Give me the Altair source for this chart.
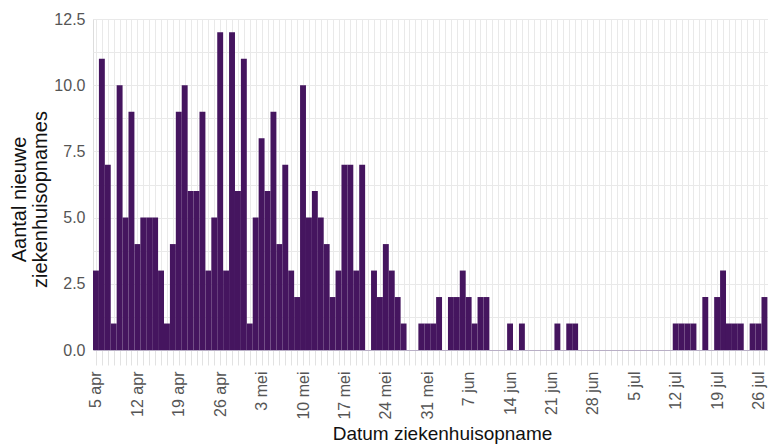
import json
import altair as alt
import pandas as pd

# Daily new hospital admissions, one value per day starting 5 apr
counts = [
    3, 11, 7, 1, 10, 5, 9, 4, 5, 5, 5, 3, 1, 4,      # 5 apr - 18 apr
    9, 10, 6, 6, 9, 3, 5, 12, 3, 12, 6, 11, 1, 5,    # 19 apr - 2 mei
    8, 6, 9, 4, 7, 3, 2, 10, 5, 6, 5, 4, 2, 3,       # 3 mei - 16 mei
    7, 7, 3, 7, 0, 3, 2, 4, 3, 2, 1, 0, 0, 1,        # 17 mei - 30 mei
    1, 1, 2, 0, 2, 2, 3, 2, 1, 2, 2, 0, 0, 0,        # 31 mei - 13 jun
    1, 0, 1, 0, 0, 0, 0, 0, 1, 0, 1, 1, 0, 0,        # 14 jun - 27 jun
    0, 0, 0, 0, 0, 0, 0, 0, 0, 0, 0, 0, 0, 0,        # 28 jun - 11 jul
    1, 1, 1, 1, 0, 2, 0, 2, 3, 1, 1, 1, 0, 1,        # 12 jul - 25 jul
    1, 2,                                            # 26 jul - 27 jul
]

tick_labels = ["5 apr", "12 apr", "19 apr", "26 apr", "3 mei", "10 mei", "17 mei",
               "24 mei", "31 mei", "7 jun", "14 jun", "21 jun", "28 jun", "5 jul",
               "12 jul", "19 jul", "26 jul"]

y_title = ["Aantal nieuwe", "ziekenhuisopnames"]
x_title = "Datum ziekenhuisopname"

df = pd.DataFrame({"day": list(range(len(counts))), "count": counts})

label_expr = f"datum.value % 7 == 0 ? {json.dumps(tick_labels)}[datum.value / 7] : ''"
y_label_expr = "datum.value % 2.5 == 0 ? format(datum.value, '.1f') : ''"

bar_color = "#45155f"
grid_color = "#e9e9e9"
font = "Liberation Sans"

chart = alt.Chart(df).transform_filter(
    "datum.count > 0"
).transform_calculate(
    x0="datum.day - 0.5", x1="datum.day + 0.5"
).mark_bar(color=bar_color, clip=True).encode(
    x=alt.X("x0:Q",
            scale=alt.Scale(domain=[-0.5, 113.6], nice=False, zero=False),
            axis=alt.Axis(
                values=list(range(0, 114)),
                labelExpr=label_expr,
                labelAngle=270, labelAlign="right", labelBaseline="middle",
                labelFontSize=16, labelColor="#555555", labelFont=font,
                labelPadding=6, labelOverlap=False, labelFlush=False,
                ticks=True, tickSize=15, tickColor="#e2e2e2", tickWidth=1,
                grid=True, gridColor=grid_color, gridWidth=1,
                domain=True, domainColor="#b9afc6", domainWidth=1,
                title=x_title, titleFont=font, titleFontSize=19,
                titleFontWeight="normal", titleColor="#111111",
                titleX=349, titleY=89, titleAlign="center",
                titleBaseline="alphabetic",
            )),
    x2="x1:Q",
    y=alt.Y("count:Q",
            scale=alt.Scale(domain=[0, 12.5], nice=False),
            axis=alt.Axis(
                values=[0, 1.25, 2.5, 3.75, 5, 6.25, 7.5, 8.75, 10, 11.25, 12.5],
                labelExpr=y_label_expr,
                labelFontSize=16, labelColor="#555555", labelFont=font,
                labelPadding=8, ticks=False, domain=False,
                grid=True, gridColor=grid_color, gridWidth=1,
                title=y_title, titleFont=font, titleFontSize=20,
                titleFontWeight="normal", titleColor="#111111",
                titleAngle=270, titleX=-74, titleY=180,
                titleAlign="center", titleBaseline="middle", titleLineHeight=21,
            )),
    y2=alt.datum(0),
).properties(
    width=675, height=331,
    autosize=alt.AutoSizeParams(type="none"),
    padding={"left": 85, "top": 11, "right": 0, "bottom": 95},
).configure_view(stroke=None).configure(background="white")

chart.save("out.html", embed_options={"renderer": "svg", "actions": False})
